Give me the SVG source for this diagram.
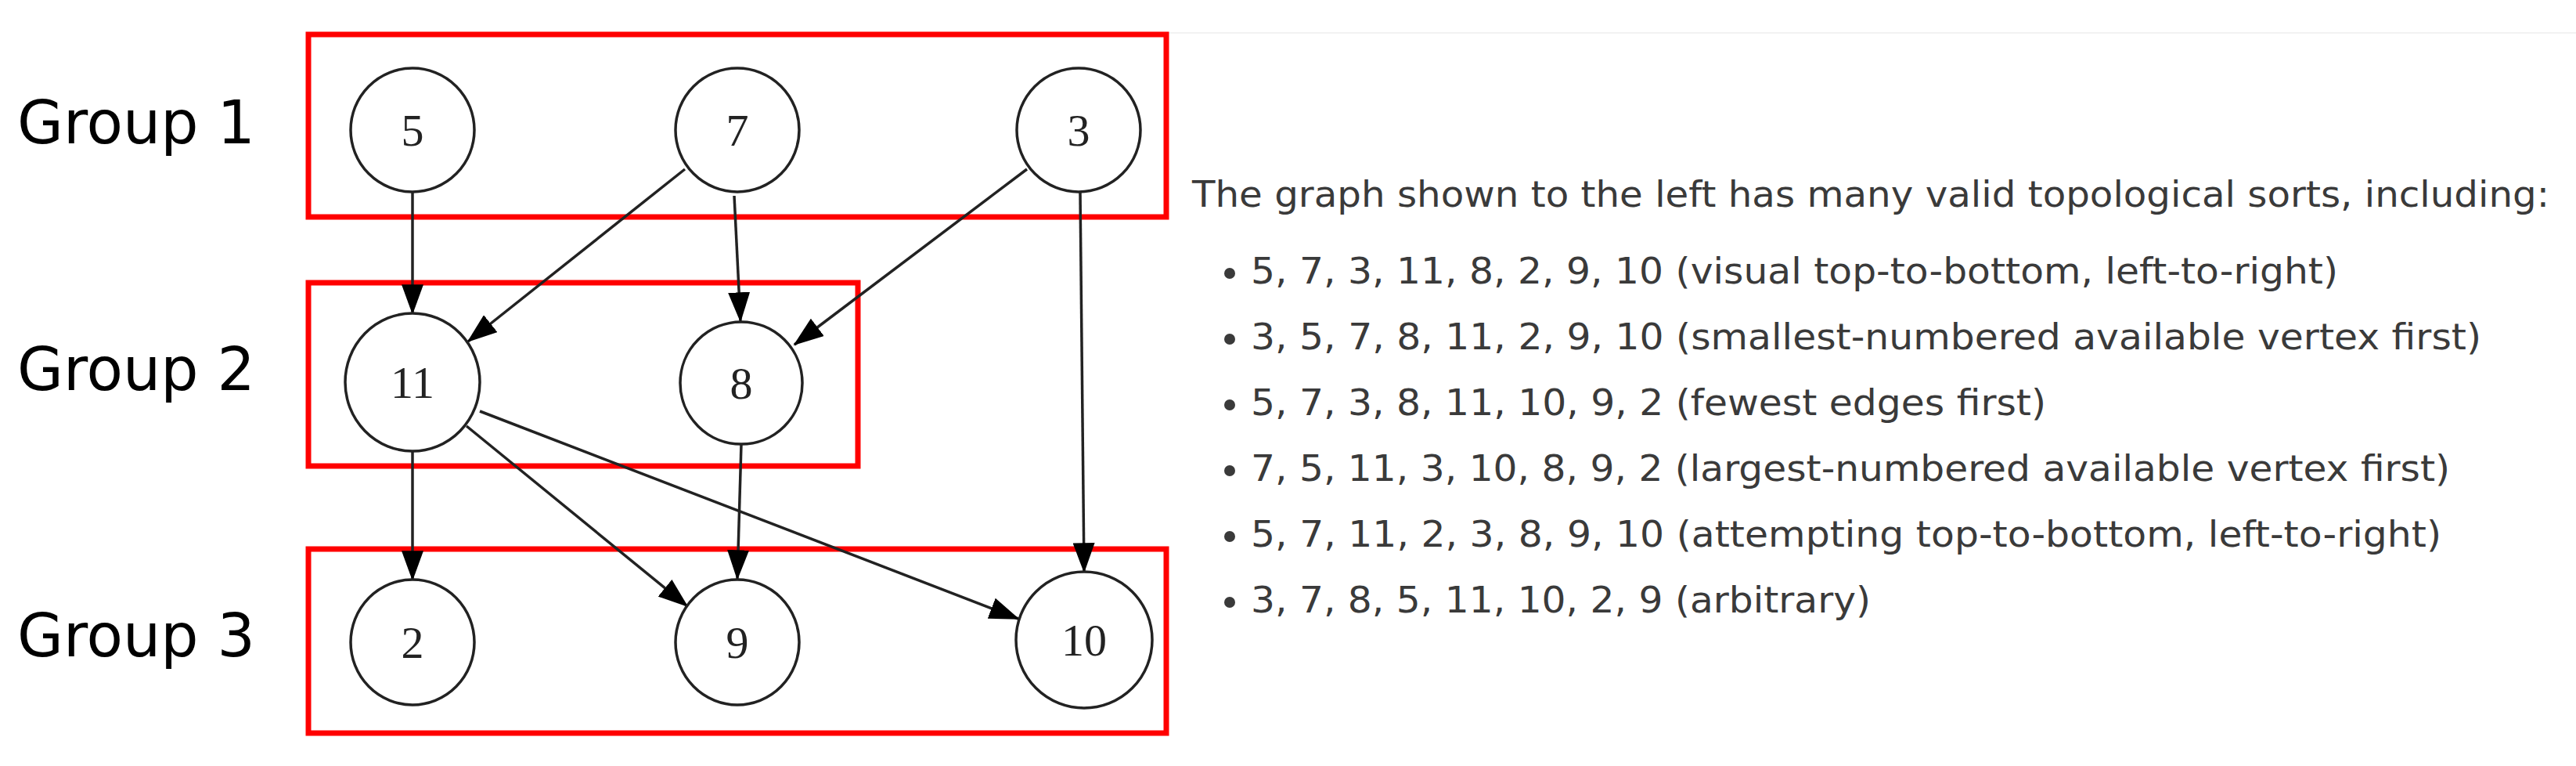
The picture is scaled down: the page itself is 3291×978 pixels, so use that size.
<svg xmlns="http://www.w3.org/2000/svg" width="3291" height="978" viewBox="0 0 3291 978">
<defs>
<marker id="ah" markerWidth="11" markerHeight="8" refX="10.5" refY="4" orient="auto" markerUnits="strokeWidth"><path d="M0,0 L11,4 L0,8 Z" fill="#000"/></marker>
<style>
.box{fill:none;stroke:#f00;stroke-width:7}
.node ellipse{fill:#fff;stroke:#222;stroke-width:3.5}
.node text{font-family:"Liberation Serif",serif;font-size:58px;fill:#222;text-anchor:middle}
.grp{font-family:"DejaVu Sans",sans-serif;font-size:76px;fill:#000}
.edge{stroke:#222;stroke-width:3.5;fill:none;marker-end:url(#ah)}
.t{font-family:"DejaVu Sans",sans-serif;font-size:46px;fill:#3a3a3a}
</style>
</defs>
<rect width="3291" height="978" fill="#fff"/>
<line x1="1490" y1="42" x2="3291" y2="42" stroke="#f2f2f2" stroke-width="2"/>
<g id="groups">
<rect class="box" x="394" y="44" width="1096" height="233"/>
<rect class="box" x="394" y="361" width="702" height="234"/>
<rect class="box" x="394" y="701" width="1096" height="235"/>
<text class="grp" x="22" y="183">Group 1</text>
<text class="grp" x="22" y="498">Group 2</text>
<text class="grp" x="22" y="838">Group 3</text>
</g>
<g id="connectors">
<path class="edge" d="M527,246 L527,400"/>
<path class="edge" d="M875,216 L598,436"/>
<path class="edge" d="M938,250 L946,410"/>
<path class="edge" d="M1312,216 L1015,440"/>
<path class="edge" d="M1380,246 L1385,730"/>
<path class="edge" d="M527,577 L527,740"/>
<path class="edge" d="M596,544 L878,774"/>
<path class="edge" d="M613,525 L1301,790"/>
<path class="edge" d="M947,567 L942,739"/>
</g>
<g id="n5" class="node"><ellipse cx="527" cy="166" rx="79" ry="79"/><text x="527" y="186">5</text></g>
<g id="n7" class="node"><ellipse cx="942" cy="166" rx="79" ry="79"/><text x="942" y="186">7</text></g>
<g id="n3" class="node"><ellipse cx="1378" cy="166" rx="79" ry="79"/><text x="1378" y="186">3</text></g>
<g id="n11" class="node"><ellipse cx="527" cy="488" rx="86" ry="88"/><text x="527" y="508">11</text></g>
<g id="n8" class="node"><ellipse cx="947" cy="489" rx="78" ry="78"/><text x="947" y="509">8</text></g>
<g id="n2" class="node"><ellipse cx="527" cy="820" rx="79" ry="80"/><text x="527" y="840">2</text></g>
<g id="n9" class="node"><ellipse cx="942" cy="820" rx="79" ry="80"/><text x="942" y="840">9</text></g>
<g id="n10" class="node"><ellipse cx="1385" cy="817" rx="87" ry="87"/><text x="1385" y="837">10</text></g>
<g id="text">
<text class="t" x="1523" y="264" textLength="1734" lengthAdjust="spacingAndGlyphs">The graph shown to the left has many valid topological sorts, including:</text>
<g fill="#3a3a3a"><circle cx="1571" cy="349" r="7"/><circle cx="1571" cy="433" r="7"/><circle cx="1571" cy="517" r="7"/><circle cx="1571" cy="601" r="7"/><circle cx="1571" cy="685" r="7"/><circle cx="1571" cy="769" r="7"/></g>
<text class="t" x="1598" y="362" textLength="1389" lengthAdjust="spacingAndGlyphs">5, 7, 3, 11, 8, 2, 9, 10 (visual top-to-bottom, left-to-right)</text>
<text class="t" x="1598" y="446" textLength="1572" lengthAdjust="spacingAndGlyphs">3, 5, 7, 8, 11, 2, 9, 10 (smallest-numbered available vertex first)</text>
<text class="t" x="1598" y="530" textLength="1016" lengthAdjust="spacingAndGlyphs">5, 7, 3, 8, 11, 10, 9, 2 (fewest edges first)</text>
<text class="t" x="1598" y="614" textLength="1532" lengthAdjust="spacingAndGlyphs">7, 5, 11, 3, 10, 8, 9, 2 (largest-numbered available vertex first)</text>
<text class="t" x="1598" y="698" textLength="1521" lengthAdjust="spacingAndGlyphs">5, 7, 11, 2, 3, 8, 9, 10 (attempting top-to-bottom, left-to-right)</text>
<text class="t" x="1598" y="782" textLength="792" lengthAdjust="spacingAndGlyphs">3, 7, 8, 5, 11, 10, 2, 9 (arbitrary)</text>
</g>
</svg>
